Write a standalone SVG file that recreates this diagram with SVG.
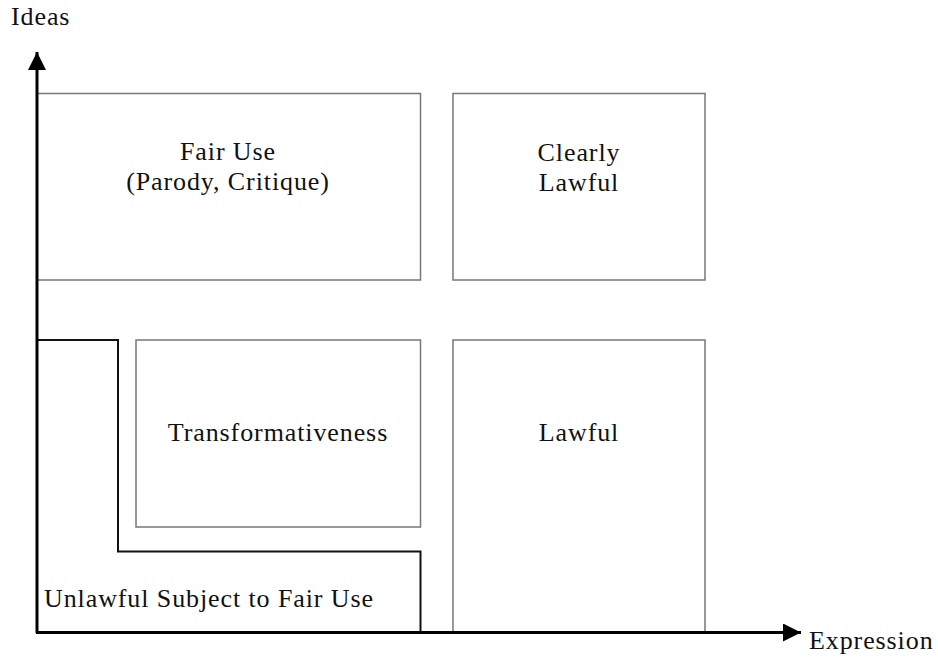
<svg xmlns="http://www.w3.org/2000/svg" width="938" height="662" viewBox="0 0 938 662">
<style>
text{font-family:'Liberation Serif','Times New Roman',serif;font-size:26px;fill:#111;letter-spacing:0.9px}
.c{text-anchor:middle}
.box{fill:none;stroke:#777;stroke-width:1.5}
.axis{stroke:#000;stroke-width:3;fill:none}
.bound{stroke:#111;stroke-width:2;fill:none}
</style>
<defs>
<marker id="ah" viewBox="0 0 10 10" refX="10" refY="5" markerWidth="6.5" markerHeight="6" orient="auto" markerUnits="strokeWidth">
<path d="M0,0 L10,5 L0,10 Z" fill="#000"/>
</marker>
</defs>
<rect width="938" height="662" fill="#fff"/>
<g id="fair-use">
<path class="box" d="M37,93.5 H420.5 V280 H37"/>
<text class="c" x="228" y="160">Fair Use</text>
<text class="c" x="228" y="190">(Parody, Critique)</text>
</g>
<g id="clearly-lawful">
<rect class="box" x="453" y="93.5" width="252" height="186.5"/>
<text class="c" x="579" y="161">Clearly</text>
<text class="c" x="579" y="191">Lawful</text>
</g>
<g id="transformativeness">
<rect class="box" x="136" y="340" width="284.5" height="187"/>
<text class="c" x="278" y="441">Transformativeness</text>
</g>
<g id="lawful">
<path class="box" d="M453,632 V340 H705 V632"/>
<text class="c" x="579" y="441">Lawful</text>
</g>
<g id="unlawful">
<path class="bound" d="M37,340 H118 V551.5 H420.5 V632"/>
<text x="44" y="607">Unlawful Subject to Fair Use</text>
</g>
<g id="connectors">
<line class="axis" x1="37" y1="633" x2="37" y2="52" marker-end="url(#ah)"/>
<line class="axis" x1="36" y1="632.5" x2="801" y2="632.5" marker-end="url(#ah)"/>
</g>
<text x="11" y="25">Ideas</text>
<text x="809" y="649">Expression</text>
</svg>
